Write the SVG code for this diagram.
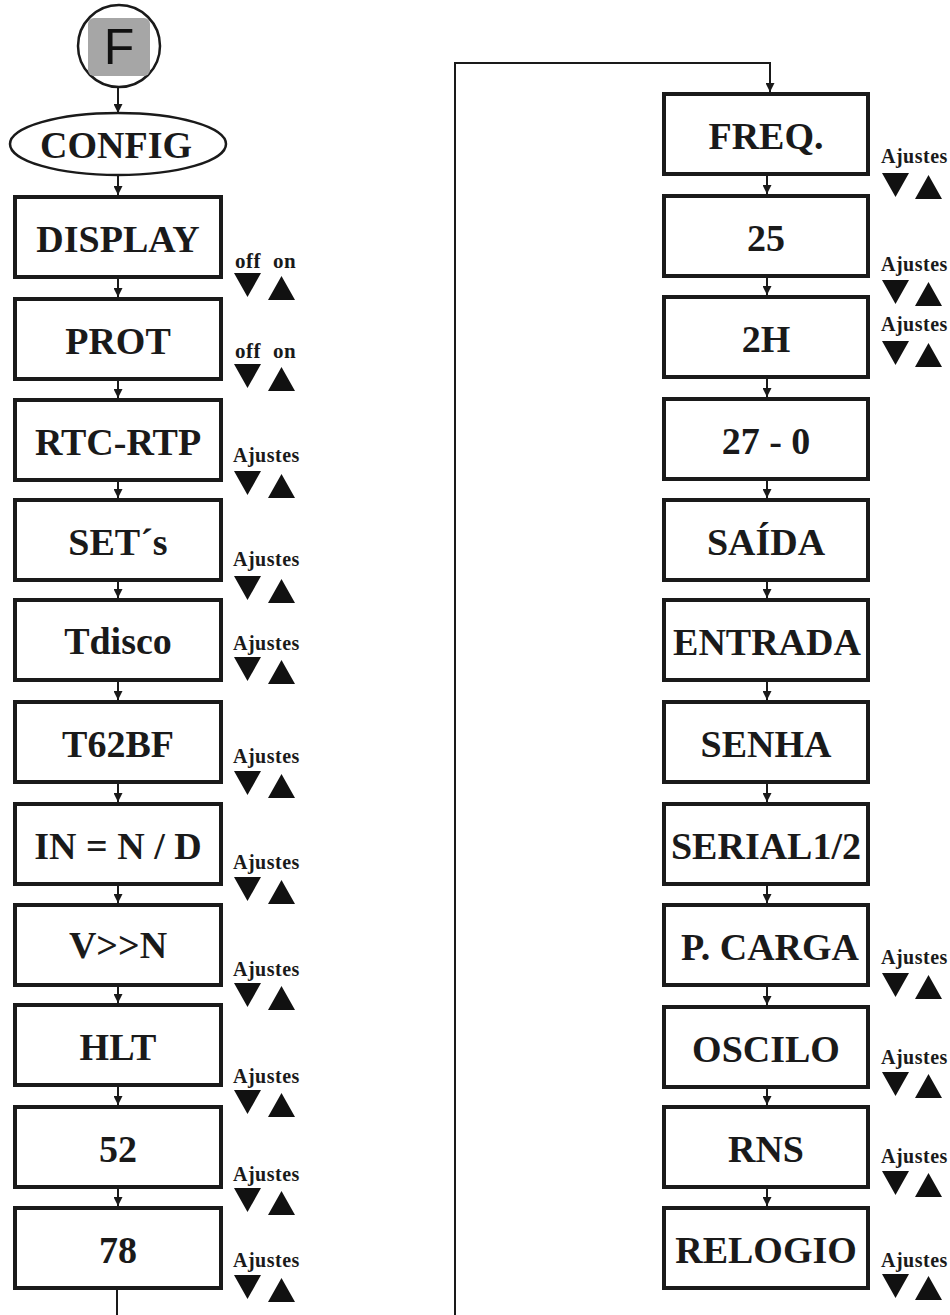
<svg xmlns="http://www.w3.org/2000/svg" xmlns:xlink="http://www.w3.org/1999/xlink" width="950" height="1315" viewBox="0 0 950 1315">
<style>
.box{fill:#fff;stroke:#1a1a1a;stroke-width:4}
.lbl{font-family:"Liberation Serif","Times New Roman",serif;font-weight:bold;font-size:38px;fill:#1a1a1a;text-anchor:middle}
.aj{font-family:"Liberation Serif","Times New Roman",serif;font-weight:bold;font-size:20px;fill:#1a1a1a;letter-spacing:0.5px}
.oo{font-family:"Liberation Serif","Times New Roman",serif;font-weight:bold;font-size:21px;fill:#1a1a1a;letter-spacing:0.5px}
.con{fill:none;stroke:#1a1a1a;stroke-width:2}
.tri{fill:#111}
</style>
<defs>
<marker id="ah" markerUnits="userSpaceOnUse" markerWidth="9" markerHeight="9" refX="9" refY="4.5" orient="auto">
<path d="M0,0 L9,4.5 L0,9 Z" fill="#1a1a1a"/>
</marker>
<path id="dn" class="tri" d="M0,0 H27 L13.5,24 Z"/>
<path id="up" class="tri" d="M0,24 H27 L13.5,0 Z"/>
</defs>

<g id="connectors">
<line class="con" x1="118" y1="86" x2="118" y2="113" marker-end="url(#ah)"/>
<line class="con" x1="118" y1="176" x2="118" y2="195" marker-end="url(#ah)"/>
<line class="con" x1="118" y1="279" x2="118" y2="297" marker-end="url(#ah)"/>
<line class="con" x1="118" y1="381" x2="118" y2="398" marker-end="url(#ah)"/>
<line class="con" x1="118" y1="482" x2="118" y2="498" marker-end="url(#ah)"/>
<line class="con" x1="118" y1="582" x2="118" y2="598" marker-end="url(#ah)"/>
<line class="con" x1="118" y1="682" x2="118" y2="700" marker-end="url(#ah)"/>
<line class="con" x1="118" y1="784" x2="118" y2="802" marker-end="url(#ah)"/>
<line class="con" x1="118" y1="886" x2="118" y2="903" marker-end="url(#ah)"/>
<line class="con" x1="118" y1="987" x2="118" y2="1003" marker-end="url(#ah)"/>
<line class="con" x1="118" y1="1087" x2="118" y2="1105" marker-end="url(#ah)"/>
<line class="con" x1="118" y1="1189" x2="118" y2="1206" marker-end="url(#ah)"/>
<polyline class="con" points="117,1290 117,1315"/>
<polyline class="con" points="455,1315 455,63 770,63 770,92" marker-end="url(#ah)"/>
<line class="con" x1="767" y1="176" x2="767" y2="194" marker-end="url(#ah)"/>
<line class="con" x1="767" y1="278" x2="767" y2="295" marker-end="url(#ah)"/>
<line class="con" x1="767" y1="379" x2="767" y2="397" marker-end="url(#ah)"/>
<line class="con" x1="767" y1="481" x2="767" y2="498" marker-end="url(#ah)"/>
<line class="con" x1="767" y1="582" x2="767" y2="598" marker-end="url(#ah)"/>
<line class="con" x1="767" y1="682" x2="767" y2="700" marker-end="url(#ah)"/>
<line class="con" x1="767" y1="784" x2="767" y2="802" marker-end="url(#ah)"/>
<line class="con" x1="767" y1="886" x2="767" y2="903" marker-end="url(#ah)"/>
<line class="con" x1="767" y1="987" x2="767" y2="1005" marker-end="url(#ah)"/>
<line class="con" x1="767" y1="1089" x2="767" y2="1105" marker-end="url(#ah)"/>
<line class="con" x1="767" y1="1189" x2="767" y2="1206" marker-end="url(#ah)"/>
</g>

<g id="node-F">
<circle cx="119" cy="46" r="41" fill="#fff" stroke="#1a1a1a" stroke-width="2.5"/>
<rect x="88" y="18" width="62" height="58" rx="6" fill="#a6a6a6"/>
<text x="119" y="64" font-family="'Liberation Sans',Arial,sans-serif" font-size="50" text-anchor="middle" fill="#111">F</text>
</g>
<g id="node-CONFIG">
<ellipse cx="118" cy="144" rx="108" ry="31" fill="#fff" stroke="#1a1a1a" stroke-width="2.5"/>
<text class="lbl" x="116" y="158">CONFIG</text>
</g>

<g id="node-DISPLAY"><rect class="box" x="15" y="197" width="206" height="80"/><text class="lbl" x="118" y="252">DISPLAY</text>
<text class="oo" x="235" y="268">off</text><text class="oo" x="273" y="268">on</text><use href="#dn" x="234" y="273"/><use href="#up" x="268" y="276"/></g>
<g id="node-PROT"><rect class="box" x="15" y="299" width="206" height="80"/><text class="lbl" x="118" y="354">PROT</text>
<text class="oo" x="235" y="358">off</text><text class="oo" x="273" y="358">on</text><use href="#dn" x="234" y="364"/><use href="#up" x="268" y="367"/></g>
<g id="node-RTC-RTP"><rect class="box" x="15" y="400" width="206" height="80"/><text class="lbl" x="118" y="455">RTC-RTP</text>
<text class="aj" x="233" y="462">Ajustes</text><use href="#dn" x="234" y="471"/><use href="#up" x="268" y="474"/></g>
<g id="node-SETs"><rect class="box" x="15" y="500" width="206" height="80"/><text class="lbl" x="118" y="555">SET´s</text>
<text class="aj" x="233" y="566">Ajustes</text><use href="#dn" x="234" y="576"/><use href="#up" x="268" y="579"/></g>
<g id="node-Tdisco"><rect class="box" x="15" y="600" width="206" height="80"/><text class="lbl" x="118" y="654">Tdisco</text>
<text class="aj" x="233" y="650">Ajustes</text><use href="#dn" x="234" y="657"/><use href="#up" x="268" y="660"/></g>
<g id="node-T62BF"><rect class="box" x="15" y="702" width="206" height="80"/><text class="lbl" x="118" y="757">T62BF</text>
<text class="aj" x="233" y="763">Ajustes</text><use href="#dn" x="234" y="771"/><use href="#up" x="268" y="774"/></g>
<g id="node-IN"><rect class="box" x="15" y="804" width="206" height="80"/><text class="lbl" x="118" y="859">IN = N / D</text>
<text class="aj" x="233" y="869">Ajustes</text><use href="#dn" x="234" y="877"/><use href="#up" x="268" y="880"/></g>
<g id="node-VN"><rect class="box" x="15" y="905" width="206" height="80"/><text class="lbl" x="118" y="958">V&gt;&gt;N</text>
<text class="aj" x="233" y="976">Ajustes</text><use href="#dn" x="234" y="983"/><use href="#up" x="268" y="986"/></g>
<g id="node-HLT"><rect class="box" x="15" y="1005" width="206" height="80"/><text class="lbl" x="118" y="1060">HLT</text>
<text class="aj" x="233" y="1083">Ajustes</text><use href="#dn" x="234" y="1090"/><use href="#up" x="268" y="1093"/></g>
<g id="node-52"><rect class="box" x="15" y="1107" width="206" height="80"/><text class="lbl" x="118" y="1162">52</text>
<text class="aj" x="233" y="1181">Ajustes</text><use href="#dn" x="234" y="1188"/><use href="#up" x="268" y="1191"/></g>
<g id="node-78"><rect class="box" x="15" y="1208" width="206" height="80"/><text class="lbl" x="118" y="1263">78</text>
<text class="aj" x="233" y="1267">Ajustes</text><use href="#dn" x="234" y="1275"/><use href="#up" x="268" y="1278"/></g>

<g id="node-FREQ"><rect class="box" x="664" y="94" width="204" height="80"/><text class="lbl" x="766" y="149">FREQ.</text>
<text class="aj" x="881" y="163">Ajustes</text><use href="#dn" x="882" y="173"/><use href="#up" x="915" y="175"/></g>
<g id="node-25"><rect class="box" x="664" y="196" width="204" height="80"/><text class="lbl" x="766" y="251">25</text>
<text class="aj" x="881" y="271">Ajustes</text><use href="#dn" x="882" y="280"/><use href="#up" x="915" y="282"/></g>
<g id="node-2H"><rect class="box" x="664" y="297" width="204" height="80"/><text class="lbl" x="766" y="352">2H</text>
<text class="aj" x="881" y="331">Ajustes</text><use href="#dn" x="882" y="341"/><use href="#up" x="915" y="343"/></g>
<g id="node-27-0"><rect class="box" x="664" y="399" width="204" height="80"/><text class="lbl" x="766" y="454">27 - 0</text></g>
<g id="node-SAIDA"><rect class="box" x="664" y="500" width="204" height="80"/><text class="lbl" x="766" y="555">SAÍDA</text></g>
<g id="node-ENTRADA"><rect class="box" x="664" y="600" width="204" height="80"/><text class="lbl" x="767" y="655">ENTRADA</text></g>
<g id="node-SENHA"><rect class="box" x="664" y="702" width="204" height="80"/><text class="lbl" x="766" y="757">SENHA</text></g>
<g id="node-SERIAL"><rect class="box" x="664" y="804" width="204" height="80"/><text class="lbl" x="766" y="859">SERIAL1/2</text></g>
<g id="node-PCARGA"><rect class="box" x="664" y="905" width="204" height="80"/><text class="lbl" x="770" y="960">P. CARGA</text>
<text class="aj" x="881" y="964">Ajustes</text><use href="#dn" x="882" y="973"/><use href="#up" x="915" y="975"/></g>
<g id="node-OSCILO"><rect class="box" x="664" y="1007" width="204" height="80"/><text class="lbl" x="766" y="1062">OSCILO</text>
<text class="aj" x="881" y="1064">Ajustes</text><use href="#dn" x="882" y="1072"/><use href="#up" x="915" y="1074"/></g>
<g id="node-RNS"><rect class="box" x="664" y="1107" width="204" height="80"/><text class="lbl" x="766" y="1162">RNS</text>
<text class="aj" x="881" y="1163">Ajustes</text><use href="#dn" x="882" y="1171"/><use href="#up" x="915" y="1173"/></g>
<g id="node-RELOGIO"><rect class="box" x="664" y="1208" width="204" height="80"/><text class="lbl" x="766" y="1263">RELOGIO</text>
<text class="aj" x="881" y="1267">Ajustes</text><use href="#dn" x="882" y="1274"/><use href="#up" x="915" y="1276"/></g>
</svg>
